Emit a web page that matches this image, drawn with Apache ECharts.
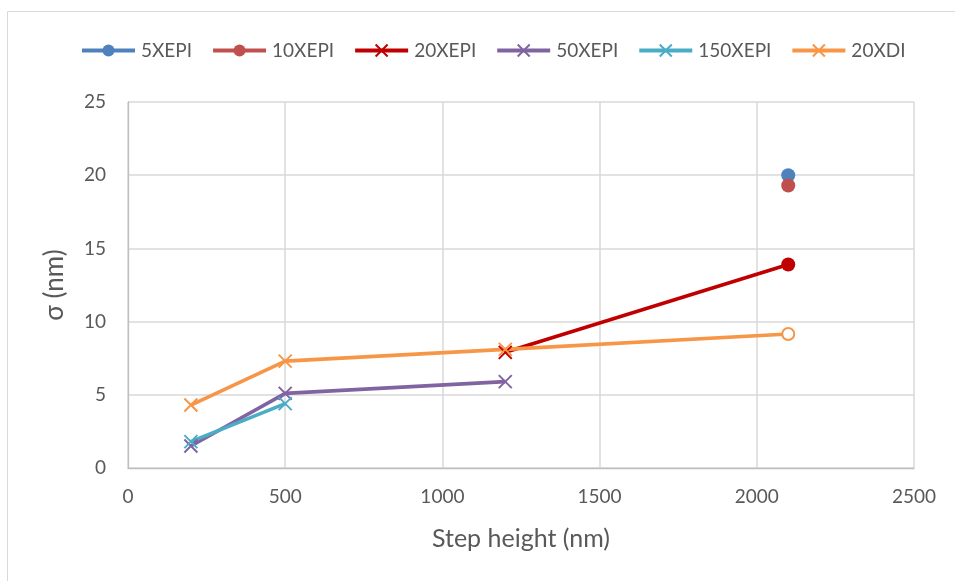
<!DOCTYPE html>
<html><head><meta charset="utf-8">
<script src="https://cdn.jsdelivr.net/npm/echarts@6/dist/echarts.min.js"></script>
<style>html,body{margin:0;padding:0;background:#fff}#c{width:955px;height:581px}</style>
</head><body><div id="c"></div>
<script>
const seriesNames = ['5XEPI','10XEPI','20XEPI','50XEPI','150XEPI','20XDI'];
const colors = ['#4F81BD','#C0504D','#C00000','#8064A2','#4BACC6','#F79646'];
const s5XEPI = [[2100, 20.0]];
const s10XEPI = [[2100, 19.3]];
const s20XEPI = [[1200, 7.9], [2100, 13.9]];
const s50XEPI = [[200, 1.5], [500, 5.1], [1200, 5.9]];
const s150XEPI = [[200, 1.8], [500, 4.4]];
const s20XDI = [[200, 4.3], [500, 7.3], [1200, 8.1], [2100, 9.15]];
const xTicks = [0, 500, 1000, 1500, 2000, 2500];
const yTicks = [0, 5, 10, 15, 20, 25];

const X = 'path://M0,0L10,10M10,0L0,10';
const font = 'Lato, "Open Sans", sans-serif';
function mk(name, data, color, symbol, opts) {
  return Object.assign({
    name, type: 'line', data, symbol, symbolSize: 13,
    lineStyle: { color, width: 3.6 },
    itemStyle: { color, borderColor: color, borderWidth: 2 },
    emphasis: { disabled: true }
  }, opts || {});
}
const series = [
  mk('5XEPI', s5XEPI, colors[0], 'circle', { symbolSize: 14, itemStyle: { color: colors[0] } }),
  mk('10XEPI', s10XEPI, colors[1], 'circle', { symbolSize: 14, itemStyle: { color: colors[1] } }),
  mk('20XEPI', s20XEPI.map((d, i) => i === s20XEPI.length - 1 ? { value: d, symbol: 'circle', symbolSize: 14, itemStyle: { color: colors[2], borderWidth: 0 } } : d), colors[2], X),
  mk('50XEPI', s50XEPI, colors[3], X),
  mk('150XEPI', s150XEPI, colors[4], X),
  mk('20XDI', s20XDI.map((d, i) => i === s20XDI.length - 1 ? { value: d, symbol: 'circle', symbolSize: 12, itemStyle: { color: '#fff', borderColor: colors[5], borderWidth: 2 } } : d), colors[5], X)
];
const chart = echarts.init(document.getElementById('c'));
chart.setOption({
  animation: false,
  textStyle: { fontFamily: font },
  graphic: [{ type: 'rect', shape: { x: 7.5, y: 11.5, width: 960, height: 600 }, style: { fill: 'none', stroke: '#d9d9d9', lineWidth: 1 }, silent: true }],
  legend: {
    top: 36, left: 75, itemGap: 19, itemWidth: 53, itemHeight: 15,
    lineStyle: { width: 4 },
    textStyle: { color: '#595959', fontSize: 19, fontFamily: font, padding: [0, 0, 0, 1] },
    data: seriesNames
  },
  grid: { left: 128, right: 41, top: 102, bottom: 113, containLabel: false },
  xAxis: {
    type: 'value', min: xTicks[0], max: xTicks[xTicks.length - 1], interval: 500,
    name: 'Step height (nm)', nameLocation: 'middle', nameGap: 58,
    nameTextStyle: { color: '#595959', fontSize: 25, fontFamily: font },
    axisLine: { lineStyle: { color: '#bfbfbf', width: 1.3 } },
    axisTick: { show: false },
    axisLabel: { color: '#595959', fontSize: 19, margin: 19, fontFamily: font, formatter: v => String(v) },
    splitLine: { show: true, lineStyle: { color: '#d9d9d9', width: 1.5 } }
  },
  yAxis: {
    type: 'value', min: yTicks[0], max: yTicks[yTicks.length - 1], interval: 5,
    name: 'σ (nm)', nameLocation: 'middle', nameGap: 60, nameRotate: 90,
    nameTextStyle: { color: '#595959', fontSize: 26, fontFamily: font },
    axisLine: { show: true, lineStyle: { color: '#bfbfbf', width: 1.3 } },
    axisTick: { show: false },
    axisLabel: { color: '#595959', fontSize: 19, margin: 22, fontFamily: font },
    splitLine: { show: true, lineStyle: { color: '#d9d9d9', width: 1.5 } }
  },
  series
});
</script></body></html>
